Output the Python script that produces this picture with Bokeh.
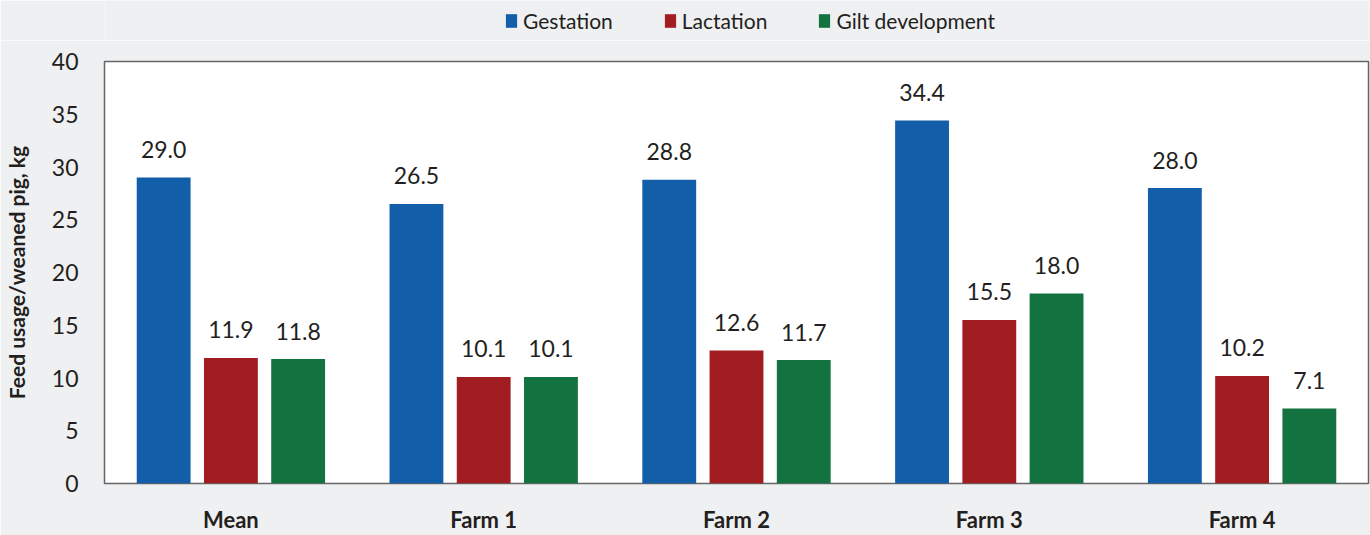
from bokeh.plotting import figure
from bokeh.layouts import column
from bokeh.models import ColumnDataSource, Legend, LegendItem, Range1d, FactorRange
from bokeh.transform import dodge
from bokeh.core.properties import value
from bokeh.embed import file_html
from bokeh.resources import INLINE

categories = ["Mean", "Farm 1", "Farm 2", "Farm 3", "Farm 4"]
gestation = [29.0, 26.5, 28.8, 34.4, 28.0]
lactation = [11.9, 10.1, 12.6, 15.5, 10.2]
gilt = [11.8, 10.1, 11.7, 18.0, 7.1]
series_names = ["Gestation", "Lactation", "Gilt development"]
y_ticks = [0, 5, 10, 15, 20, 25, 30, 35, 40]

colors = ["#125ea9", "#a11d22", "#137340"]
FONT = "Lato"
TXT = "#231f20"
BG = "#eff0f2"

src = ColumnDataSource(dict(
    cat=categories,
    g=gestation, l=lactation, k=gilt,
    gl=[f"{v:.1f}" for v in gestation],
    ll=[f"{v:.1f}" for v in lactation],
    kl=[f"{v:.1f}" for v in gilt],
))
cols = ["g", "l", "k"]
labs = ["gl", "ll", "kl"]
offsets = [-0.266, 0.0, 0.266]

# ---- legend strip (top) ----
# the same bars are drawn here far outside the visible y-range; only the legend shows
lg = figure(width=1370, height=40, output_backend="svg", toolbar_location=None,
            x_range=FactorRange(*categories), y_range=Range1d(1000, 1001),
            x_axis_location=None, y_axis_location=None,
            min_border=0, min_border_left=100, min_border_right=2,
            min_border_top=0, min_border_bottom=0)
lg.grid.visible = False
lg.outline_line_color = None
lg.border_fill_color = BG
lg.background_fill_color = BG
lg.x_range.range_padding = 0
lg_renderers = [lg.vbar(x=dodge("cat", off, range=lg.x_range), top=c, width=0.213, source=src,
                        fill_color=col, line_color=None)
                for off, c, col in zip(offsets, cols, colors)]
legend = Legend(items=[LegendItem(label=n, renderers=[r]) for n, r in zip(series_names, lg_renderers)],
                orientation="horizontal", location=(400, 7),
                background_fill_alpha=0, border_line_color=None,
                padding=0, margin=0, spacing=50,
                glyph_width=14, glyph_height=17, label_standoff=5,
                label_text_font=FONT, label_text_font_size="21px", label_text_color=TXT)
lg.add_layout(legend, "center")

# ---- main chart ----
p = figure(x_range=FactorRange(*categories), y_range=Range1d(0, 40),
           width=1370, height=495, output_backend="svg", toolbar_location=None,
           min_border_left=100, min_border_right=2, min_border_top=21, min_border_bottom=52)
p.border_fill_color = BG
p.background_fill_color = "white"
p.outline_line_color = "#666666"
p.outline_line_width = 1.5
p.grid.visible = False
p.x_range.range_padding = 0

for off, c, lab, col in zip(offsets, cols, labs, colors):
    p.vbar(x=dodge("cat", off, range=p.x_range), top=c, width=0.213, source=src,
           fill_color=col, line_color=None)
    p.text(x=dodge("cat", off, range=p.x_range), y=c, text=lab, source=src,
           text_align="center", text_baseline="alphabetic", y_offset=-28,
           text_font=value(FONT), text_font_size="23px", text_color=TXT)

p.yaxis.ticker = y_ticks
p.yaxis.axis_line_color = None
p.yaxis.major_tick_line_color = None
p.yaxis.minor_tick_line_color = None
p.yaxis.major_label_text_font = FONT
p.yaxis.major_label_text_font_size = "23px"
p.yaxis.major_label_text_color = TXT
p.yaxis.major_label_standoff = 20
p.yaxis.axis_label = "Feed usage/weaned pig, kg"
p.yaxis.axis_label_text_font = FONT
p.yaxis.axis_label_text_font_style = "bold"
p.yaxis.axis_label_text_font_size = "21px"
p.yaxis.axis_label_text_color = TXT
p.yaxis.axis_label_standoff = 20

p.xaxis.axis_line_color = None
p.xaxis.major_tick_line_color = None
p.xaxis.minor_tick_line_color = None
p.xaxis.major_label_text_font = FONT
p.xaxis.major_label_text_font_style = "bold"
p.xaxis.major_label_text_font_size = "22px"
p.xaxis.major_label_text_color = TXT
p.xaxis.major_label_standoff = 16

layout = column(lg, p, spacing=0)
open("out.html", "w").write(file_html(layout, INLINE))
